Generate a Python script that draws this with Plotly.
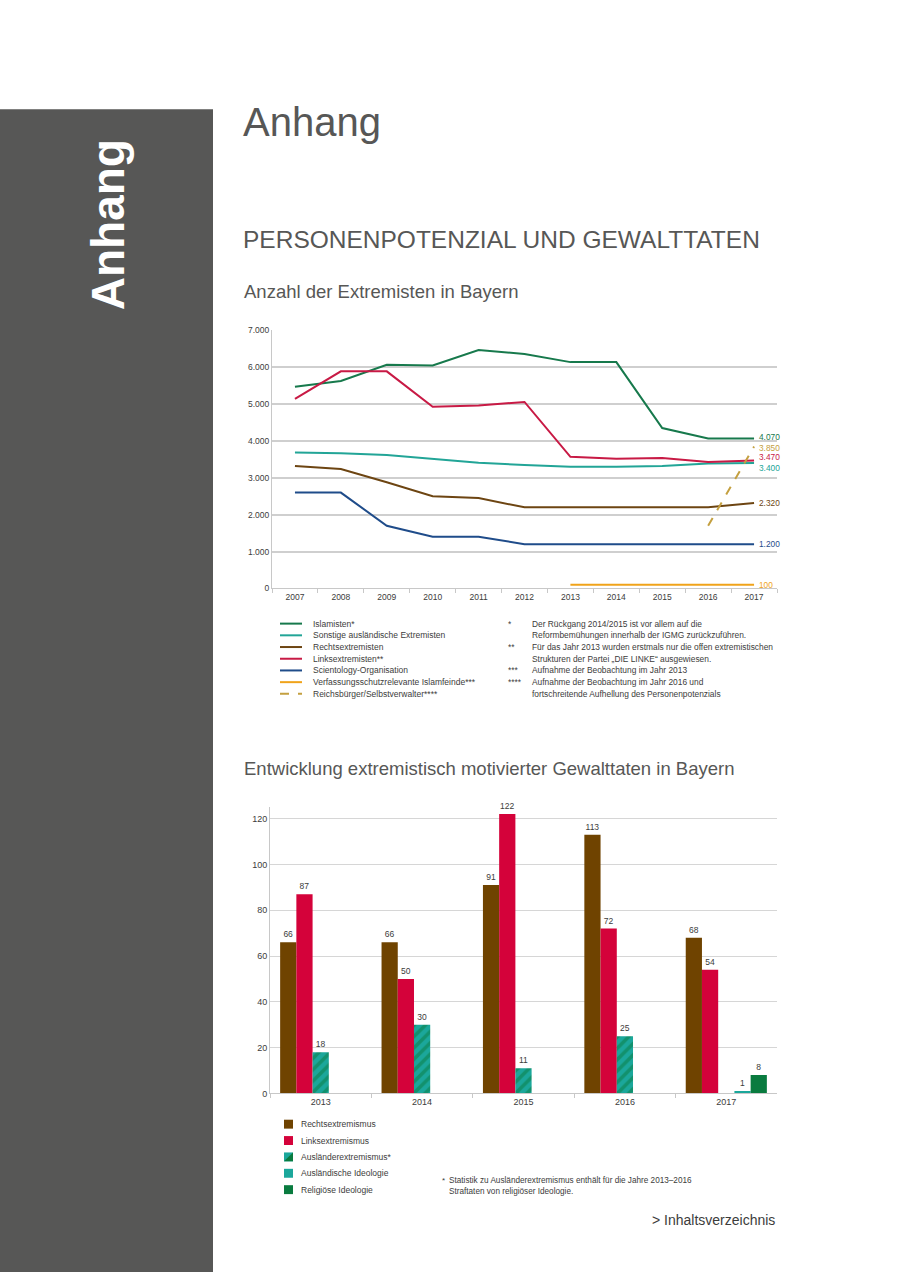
import plotly.graph_objects as go

# ---------------- data ----------------
years_line = ["2007", "2008", "2009", "2010", "2011", "2012", "2013", "2014", "2015", "2016", "2017"]
islamisten = [5470, 5630, 6070, 6050, 6470, 6360, 6140, 6140, 4350, 4070, 4070]
sonstige = [3690, 3670, 3620, 3520, 3410, 3350, 3300, 3300, 3320, 3390, 3400]
rechts_p = [3320, 3240, 2880, 2500, 2450, 2200, 2200, 2200, 2200, 2200, 2320]
links_p = [5140, 5890, 5890, 4930, 4960, 5060, 3570, 3520, 3540, 3430, 3470]
scientology = [2600, 2600, 1700, 1400, 1400, 1200, 1200, 1200, 1200, 1200, 1200]
years_islamfeinde = ["2013", "2014", "2015", "2016", "2017"]
islamfeinde = [100, 100, 100, 90, 100]
years_reichs = ["2016", "2017"]
reichsbuerger = [1700, 3850]

line_names = ["Islamisten*", "Sonstige ausländische Extremisten", "Rechtsextremisten",
              "Linksextremisten**", "Scientology-Organisation",
              "Verfassungsschutzrelevante Islamfeinde***", "Reichsbürger/Selbstverwalter****"]

years_bar = ["2013", "2014", "2015", "2016", "2017"]
rechts_g = [66, 66, 91, 113, 68]
links_g = [87, 50, 122, 72, 54]
auslaender_g = [18, 30, 11, 25, None]
ausl_ideologie = [None, None, None, None, 1]
relig_ideologie = [None, None, None, None, 8]
bar_names = ["Rechtsextremismus", "Linksextremismus", "Ausländerextremismus*",
             "Ausländische Ideologie", "Religiöse Ideologie"]

# ---------------- style ----------------
C_GREEN = "#17794c"
C_TEAL = "#22a597"
C_BROWN = "#6d4512"
C_CRIMSON = "#c81a45"
C_BLUE = "#1f4c8a"
C_ORANGE = "#f0a31a"
C_GOLD = "#c4a040"
B_BROWN = "#6f4300"
B_RED = "#d4023a"
B_TEAL = "#1ba79b"
B_DGREEN = "#097b3f"
TXT = "#3c3c3b"
GRAY = "#575756"
FONT = "Liberation Sans, Arial, sans-serif"

W, H = 900, 1277
def px(x): return x / W
def py(y): return 1 - y / H

fig = go.Figure()

line_series = [
    (years_line, islamisten, C_GREEN, "solid"),
    (years_line, sonstige, C_TEAL, "solid"),
    (years_line, rechts_p, C_BROWN, "solid"),
    (years_line, links_p, C_CRIMSON, "solid"),
    (years_line, scientology, C_BLUE, "solid"),
    (years_islamfeinde, islamfeinde, C_ORANGE, "solid"),
    (years_reichs, reichsbuerger, C_GOLD, "dash"),
]
for (xs, ys, col, dash), name in zip(line_series, line_names):
    fig.add_trace(go.Scatter(x=xs, y=ys, mode="lines", name=name,
                             line=dict(color=col, width=2, dash=dash),
                             xaxis="x", yaxis="y", showlegend=False))

def de(v):
    return f"{v:,}".replace(",", ".")

# end labels (placed at last category index)
last_idx = len(years_line) - 1
end_labels = [
    (islamisten[-1], C_GREEN, 1),
    (reichsbuerger[-1], C_GOLD, -1),
    (links_p[-1], C_CRIMSON, 3.5),
    (sonstige[-1], C_TEAL, -4.5),
    (rechts_p[-1], C_BROWN, 0),
    (scientology[-1], C_BLUE, 0),
    (islamfeinde[-1], C_ORANGE, 0),
]
annotations = []
for v, col, ys in end_labels:
    annotations.append(dict(x=last_idx, y=v, xref="x", yref="y", text=de(v),
                            showarrow=False, xanchor="left", yanchor="middle",
                            xshift=3, yshift=ys, font=dict(size=8.3, color=col, family=FONT)))

# bars
bar_series = [
    (rechts_g, B_BROWN, None),
    (links_g, B_RED, None),
    (auslaender_g, B_TEAL, "/"),
    (ausl_ideologie, B_TEAL, None),
    (relig_ideologie, B_DGREEN, None),
]
for (vals, col, pat), name in zip(bar_series, bar_names):
    marker = dict(color=col, line=dict(width=0))
    if pat:
        marker["pattern"] = dict(shape=pat, fgcolor=B_DGREEN, bgcolor=col,
                                 fillmode="overlay", size=8, solidity=0.45)
    fig.add_trace(go.Bar(x=years_bar, y=vals, name=name, marker=marker,
                         text=[("" if v is None else str(v)) for v in vals],
                         textposition="outside", cliponaxis=False,
                         textfont=dict(size=8.5, color=TXT, family=FONT),
                         xaxis="x2", yaxis="y2", showlegend=False))

shapes = []
# sidebar
shapes.append(dict(type="rect", xref="paper", yref="paper", x0=0, x1=px(213),
                   y0=0, y1=py(105), fillcolor=GRAY, line=dict(width=0), layer="below"))

# line legend
leg_y0 = 623.5
leg_step = 11.8
for i, ((xs, ys, col, dash), name) in enumerate(zip(line_series, line_names)):
    yy = leg_y0 + i * leg_step
    shapes.append(dict(type="line", xref="paper", yref="paper", x0=px(280), x1=px(302),
                       y0=py(yy), y1=py(yy), line=dict(color=col, width=2, dash=dash)))
    annotations.append(dict(x=px(311), y=py(yy), xref="paper", yref="paper", text=name,
                            showarrow=False, xanchor="left", yanchor="middle",
                            font=dict(size=8.5, color=TXT, family=FONT)))

foot_lines = [
    ("*", "Der Rückgang 2014/2015 ist vor allem auf die"),
    ("", "Reformbemühungen innerhalb der IGMG zurückzuführen."),
    ("**", "Für das Jahr 2013 wurden erstmals nur die offen extremistischen"),
    ("", "Strukturen der Partei „DIE LINKE“ ausgewiesen."),
    ("***", "Aufnahme der Beobachtung im Jahr 2013"),
    ("****", "Aufnahme der Beobachtung im Jahr 2016 und"),
    ("", "fortschreitende Aufhellung des Personenpotenzials"),
]
for i, (mark, txt) in enumerate(foot_lines):
    yy = leg_y0 + i * leg_step
    if mark:
        annotations.append(dict(x=px(506), y=py(yy), xref="paper", yref="paper", text=mark,
                                showarrow=False, xanchor="left", yanchor="middle",
                                font=dict(size=8.4, color=TXT, family=FONT)))
    annotations.append(dict(x=px(530), y=py(yy), xref="paper", yref="paper", text=txt,
                            showarrow=False, xanchor="left", yanchor="middle",
                            font=dict(size=8.4, color=TXT, family=FONT)))

# bar legend
bl_y0 = 1128
bl_step = 16.5
for i, name in enumerate(bar_names):
    yy = bl_y0 + i * bl_step
    x0, x1 = px(284), px(293)
    ya, yb = py(yy - 4.5), py(yy + 4.5)
    col = bar_series[i][1]
    shapes.append(dict(type="rect", xref="paper", yref="paper", x0=x0, x1=x1, y0=yb, y1=ya,
                       fillcolor=col, line=dict(width=0)))
    if bar_series[i][2]:
        shapes.append(dict(type="path", xref="paper", yref="paper",
                           path=f"M {x1} {ya} L {x1} {yb} L {x0} {yb} Z",
                           fillcolor=B_DGREEN, line=dict(width=0)))
    annotations.append(dict(x=px(299), y=py(yy), xref="paper", yref="paper", text=name,
                            showarrow=False, xanchor="left", yanchor="middle",
                            font=dict(size=8.5, color=TXT, family=FONT)))

annotations += [
    dict(x=px(440), y=py(1185), xref="paper", yref="paper", text="*", showarrow=False,
         xanchor="left", yanchor="middle", font=dict(size=8, color=TXT, family=FONT)),
    dict(x=px(447), y=py(1185), xref="paper", yref="paper",
         text="Statistik zu Ausländerextremismus enthält für die Jahre 2013–2016", showarrow=False,
         xanchor="left", yanchor="middle", font=dict(size=8.2, color=TXT, family=FONT)),
    dict(x=px(447), y=py(1195.5), xref="paper", yref="paper",
         text="Straftaten von religiöser Ideologie.", showarrow=False,
         xanchor="left", yanchor="middle", font=dict(size=8.2, color=TXT, family=FONT)),
    # headings
    dict(x=px(108), y=py(222), xref="paper", yref="paper", text="<b>Anhang</b>", textangle=-90,
         showarrow=False, xanchor="center", yanchor="middle",
         font=dict(size=46, color="white", family=FONT)),
    dict(x=px(241), y=py(118), xref="paper", yref="paper", text="Anhang", showarrow=False,
         xanchor="left", yanchor="middle", font=dict(size=40, color=GRAY, family=FONT)),
    dict(x=px(241), y=py(236), xref="paper", yref="paper", text="PERSONENPOTENZIAL UND GEWALTTATEN",
         showarrow=False, xanchor="left", yanchor="middle",
         font=dict(size=24.5, color=GRAY, family=FONT)),
    dict(x=px(242), y=py(289), xref="paper", yref="paper", text="Anzahl der Extremisten in Bayern",
         showarrow=False, xanchor="left", yanchor="middle",
         font=dict(size=18.5, color=GRAY, family=FONT)),
    dict(x=px(242), y=py(770), xref="paper", yref="paper",
         text="Entwicklung extremistisch motivierter Gewalttaten in Bayern",
         showarrow=False, xanchor="left", yanchor="middle",
         font=dict(size=18.5, color=GRAY, family=FONT)),
    dict(x=px(777), y=py(1225), xref="paper", yref="paper", text="> Inhaltsverzeichnis",
         showarrow=False, xanchor="right", yanchor="middle",
         font=dict(size=14, color=TXT, family=FONT)),
]

fig.update_layout(
    width=W, height=H, margin=dict(l=0, r=0, t=0, b=0),
    paper_bgcolor="white", plot_bgcolor="white",
    separators=",.", showlegend=False,
    barmode="group", bargap=0.2, bargroupgap=0,
    font=dict(family=FONT, color=TXT),
    xaxis=dict(domain=[px(272), px(777)], anchor="y", type="category",
               categoryorder="array", categoryarray=years_line, range=[-0.5, 10.5],
               tickson="boundaries", ticks="outside", ticklen=4, tickcolor="#c8c8c8",
               showline=True, linecolor="#c8c8c8", linewidth=1, showgrid=False,
               tickfont=dict(size=8.5, color=TXT, family=FONT)),
    yaxis=dict(domain=[py(588), py(328)], anchor="x", range=[0, 7000], dtick=1000,
               tickformat=",", showgrid=True, gridcolor="#cfcfcf", gridwidth=1.5,
               zeroline=False, showline=True, linecolor="#c8c8c8", linewidth=1,
               tickfont=dict(size=8.5, color=TXT, family=FONT)),
    xaxis2=dict(domain=[px(270), px(777)], anchor="y2", type="category",
                categoryorder="array", categoryarray=years_bar,
                tickson="boundaries", ticks="outside", ticklen=4, tickcolor="#c8c8c8",
                showline=True, linecolor="#c8c8c8", linewidth=1, showgrid=False,
                tickfont=dict(size=9, color=TXT, family=FONT)),
    yaxis2=dict(domain=[py(1097), py(808.5)], anchor="x2", range=[0, 125], tick0=0, dtick=20,
                showgrid=True, gridcolor="#d6d6d6", gridwidth=1,
                zeroline=False, showline=True, linecolor="#c8c8c8", linewidth=1,
                tickfont=dict(size=9, color=TXT, family=FONT)),
    shapes=shapes,
    annotations=annotations,
)

fig.write_html("out.html", config={"displayModeBar": False},
               post_script="document.body.style.margin='0';document.body.style.overflow='hidden';")
